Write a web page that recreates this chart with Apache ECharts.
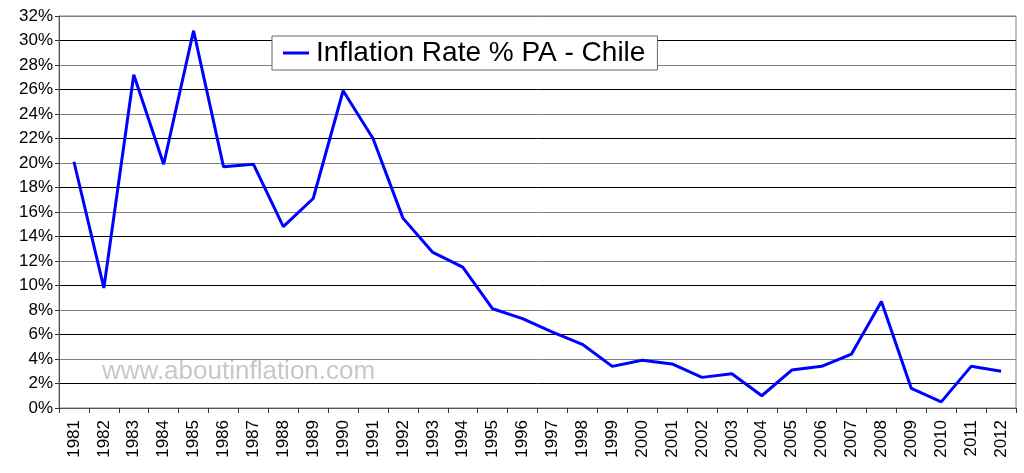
<!DOCTYPE html>
<html>
<head>
<meta charset="utf-8">
<script src="https://cdn.jsdelivr.net/npm/echarts@6/dist/echarts.min.js"></script>
<style>
html, body { margin: 0; padding: 0; background: #fff; }
#main { width: 1024px; height: 473px; }
</style>
</head>
<body>
<div id="main"></div>
<script>
var years = ['1981','1982','1983','1984','1985','1986','1987','1988','1989','1990',
  '1991','1992','1993','1994','1995','1996','1997','1998','1999','2000',
  '2001','2002','2003','2004','2005','2006','2007','2008','2009','2010','2011','2012']
var inflation = [20.1, 9.8, 27.2, 19.9, 30.8, 19.7, 19.9, 14.8, 17.1, 25.9,
  22.0, 15.5, 12.7, 11.5, 8.1, 7.3, 6.2, 5.2, 3.4, 3.9,
  3.6, 2.5, 2.8, 1.0, 3.1, 3.4, 4.4, 8.7, 1.6, 0.5, 3.4, 3.0]
var seriesName = 'Inflation Rate % PA - Chile'

var chart = echarts.init(document.getElementById('main'))
var font = 'Liberation Sans, Arial, sans-serif'

chart.setOption({
  animation: false,
  backgroundColor: '#fff',
  textStyle: { fontFamily: font },
  grid: {
    left: 59, right: 8, top: 16, bottom: 65,
    show: true, borderColor: '#808080', borderWidth: 1
  },
  legend: {
    data: [seriesName],
    left: 272, top: 36,
    padding: [3, 12, 3, 11],
    backgroundColor: '#fff',
    borderColor: '#666', borderWidth: 1, borderRadius: 0,
    itemWidth: 26, itemHeight: 3, itemGap: 4,
    icon: 'rect',
    textStyle: { fontSize: 28, color: '#000', fontFamily: font, padding: [0, 0, 0, 2] }
  },
  graphic: [{
    type: 'text', left: 102, top: 359, silent: true,
    style: { text: 'www.aboutinflation.com', fontSize: 26, fill: '#c8c8c8', fontFamily: font }
  }],
  xAxis: {
    type: 'category',
    data: years,
    boundaryGap: true,
    axisLine: { lineStyle: { color: '#555', width: 1 } },
    axisTick: { show: true, length: 5, lineStyle: { color: '#333' } },
    axisLabel: { rotate: 90, fontSize: 17, color: '#000', margin: 12, interval: 0, fontFamily: font }
  },
  yAxis: {
    type: 'value',
    min: 0, max: 32, interval: 2,
    axisLine: { show: true, lineStyle: { color: '#555' } },
    axisTick: { show: true, length: 4, lineStyle: { color: '#333' } },
    axisLabel: { formatter: '{value}%', fontSize: 17, color: '#000', margin: 6, fontFamily: font },
    splitLine: { lineStyle: { color: ['#808080', '#000'], width: 1 } }
  },
  series: [{
    name: seriesName,
    type: 'line',
    data: inflation,
    symbol: 'none',
    lineStyle: { color: '#0000ff', width: 3 },
    itemStyle: { color: '#0000ff' }
  }]
})
</script>
</body>
</html>
